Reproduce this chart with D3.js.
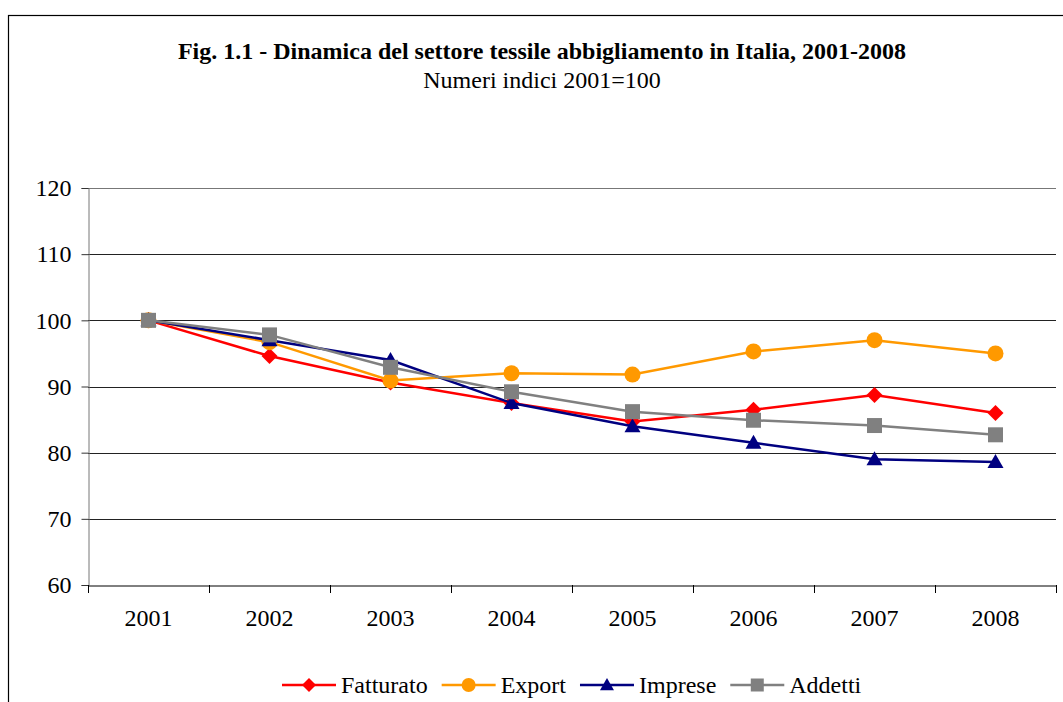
<!DOCTYPE html>
<html><head><meta charset="utf-8">
<script src="https://cdn.jsdelivr.net/npm/d3@7"></script>
<style>body{margin:0;background:#fff}svg{display:block}text{font-family:"Liberation Serif","Times New Roman",serif;fill:#000}</style>
</head><body><svg id="c" width="1063" height="702"></svg>
<script>
const years = ["2001","2002","2003","2004","2005","2006","2007","2008"];
const fatturato = [100,94.6,90.6,87.5,84.7,86.5,88.7,86.0];
const exportV = [100,96.7,90.9,92.0,91.8,95.3,97.0,95.0];
const imprese = [100,97.0,94.0,87.5,84.0,81.5,79.0,78.6];
const addetti = [100,97.8,92.9,89.2,86.2,84.9,84.1,82.7];
const yTicks = [60,70,80,90,100,110,120];
const seriesNames = ["Fatturato","Export","Imprese","Addetti"];

const series = [
  {name:seriesNames[0], values:fatturato, color:"#ff0000", shape:"diamond"},
  {name:seriesNames[1], values:exportV, color:"#ff9900", shape:"circle"},
  {name:seriesNames[2], values:imprese, color:"#000080", shape:"triangle"},
  {name:seriesNames[3], values:addetti, color:"#808080", shape:"square"}
];
const FS = 24;
const svg = d3.select("#c");
svg.append("rect").attr("x",8.5).attr("y",15.5).attr("width",1100).attr("height",800).attr("fill","none").attr("stroke","#000").attr("stroke-width",1.2);

const L=88,R=1056,T=188,B=585;
const x = d3.scaleBand().domain(years).range([L,R]);
const y = d3.scaleLinear().domain([60,120]).range([B,T]);

svg.append("text").attr("x",542).attr("y",59).attr("text-anchor","middle").style("font-size",FS+"px").attr("font-weight","bold").text("Fig. 1.1 - Dinamica del settore tessile abbigliamento in Italia, 2001-2008");
svg.append("text").attr("x",542).attr("y",88).attr("text-anchor","middle").style("font-size",FS+"px").text("Numeri indici 2001=100");

// gridlines
svg.append("g").selectAll("line").data(yTicks.filter(d=>d>60)).join("line")
  .attr("x1",L).attr("x2",R).attr("y1",d=>Math.round(y(d))+0.5).attr("y2",d=>Math.round(y(d))+0.5)
  .attr("stroke",d=>d===120?"#777":"#222").attr("stroke-width",1);

const ya = svg.append("g").attr("transform",`translate(${L+0.5},0)`).call(d3.axisLeft(y).tickValues(yTicks).tickSize(7).tickPadding(10));
ya.select(".domain").attr("stroke","#777");
ya.selectAll(".tick line").attr("stroke","#333");
ya.selectAll("text").style("font-size",FS+"px").style("font-family","Liberation Serif").attr("fill","#000");

const xa = svg.append("g").attr("transform",`translate(0,${B+0.5})`).call(d3.axisBottom(x).tickSize(0).tickPadding(23));
xa.select(".domain").attr("stroke","#000");
xa.selectAll("text").style("font-size",FS+"px").style("font-family","Liberation Serif").attr("fill","#000");
svg.append("g").selectAll("line").data(d3.range(years.length+1)).join("line")
  .attr("x1",i=>Math.round(L+i*x.step())+0.5).attr("x2",i=>Math.round(L+i*x.step())+0.5)
  .attr("y1",B).attr("y2",B+8).attr("stroke","#000");

const sym = {diamond:(s)=>`M0,${-s}L${s},0L0,${s}L${-s},0Z`,
  circle:(s)=>d3.symbol().type(d3.symbolCircle).size(Math.PI*s*s)(),
  triangle:(s)=>`M0,${-s}L${s},${s*0.75}L${-s},${s*0.75}Z`,
  square:(s)=>`M${-s},${-s}h${2*s}v${2*s}h${-2*s}Z`};
const msize = {diamond:8, circle:8, triangle:8, square:7.5};
const lsize = {diamond:7, circle:7, triangle:7, square:6.5};
const line = d3.line().x((d,i)=>x(years[i])+x.bandwidth()/2).y(d=>y(d));
series.forEach(s=>{
  const g = svg.append("g");
  g.append("path").attr("d",line(s.values)).attr("fill","none").attr("stroke",s.color).attr("stroke-width",2.5);
  g.selectAll("path.m").data(s.values).join("path").attr("class","m")
    .attr("transform",(d,i)=>`translate(${x(years[i])+x.bandwidth()/2},${y(d)})`)
    .attr("d",sym[s.shape](msize[s.shape])).attr("fill",s.color);
});

// legend
const lg = svg.append("g");
let lx = 282;
series.forEach((s,i)=>{
  const g = lg.append("g").attr("transform",`translate(${lx},685)`);
  g.append("line").attr("x1",0).attr("x2",54).attr("stroke",s.color).attr("stroke-width",2.5);
  g.append("path").attr("transform","translate(27,0)").attr("d",sym[s.shape](lsize[s.shape])).attr("fill",s.color);
  const t = g.append("text").attr("x",59).attr("y",8).style("font-size",FS+"px").text(s.name);
  lx += 59 + t.node().getComputedTextLength() + 14;
});
</script></body></html>
